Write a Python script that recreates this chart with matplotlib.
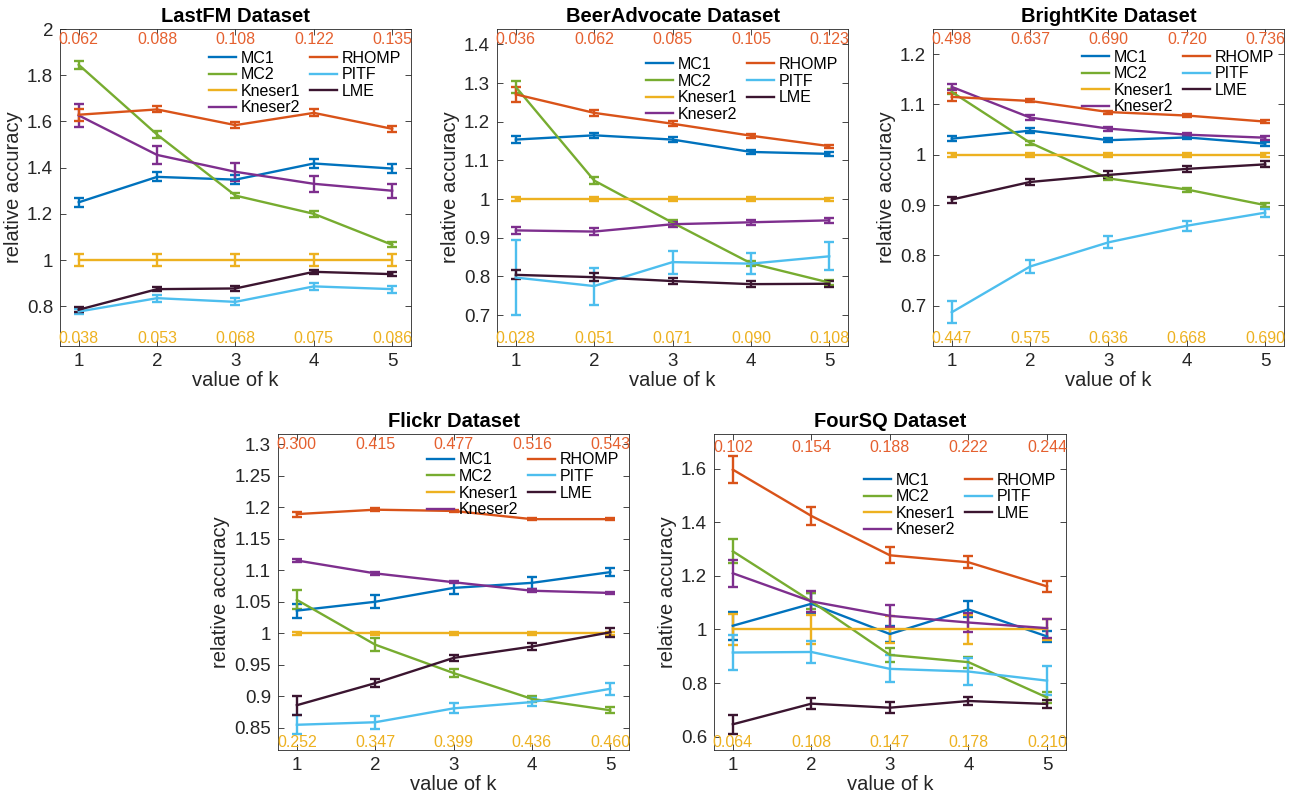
import numpy as np
import matplotlib
matplotlib.use("Agg")
from matplotlib import pyplot as plt
from matplotlib.lines import Line2D
from matplotlib.ticker import FuncFormatter
from matplotlib.transforms import blended_transform_factory

plt.rcParams['font.family'] = ['Liberation Sans', 'DejaVu Sans']

k = [1, 2, 3, 4, 5]
methods = ["MC1", "MC2", "Kneser1", "Kneser2", "RHOMP", "PITF", "LME"]
colors = ["#0072BD", "#77AC30", "#EDB120", "#7E2F8E", "#D95319", "#4DBEEE", "#3B1530"]

## LastFM
lastfm_mean = {
    "MC1": [1.25, 1.36, 1.348, 1.418, 1.396],
    "MC2": [1.845, 1.543, 1.279, 1.20, 1.066],
    "Kneser1": [1.0, 1.0, 1.0, 1.0, 1.0],
    "Kneser2": [1.626, 1.455, 1.382, 1.33, 1.30],
    "RHOMP": [1.629, 1.652, 1.584, 1.637, 1.568],
    "PITF": [0.777, 0.835, 0.819, 0.886, 0.874],
    "LME": [0.785, 0.874, 0.877, 0.949, 0.939],
}
lastfm_err = {
    "MC1": [0.02, 0.02, 0.02, 0.02, 0.018],
    "MC2": [0.018, 0.015, 0.012, 0.012, 0.01],
    "Kneser1": [0.025, 0.025, 0.025, 0.025, 0.025],
    "Kneser2": [0.05, 0.04, 0.04, 0.035, 0.03],
    "RHOMP": [0.025, 0.013, 0.013, 0.015, 0.013],
    "PITF": [0.012, 0.015, 0.015, 0.015, 0.015],
    "LME": [0.01, 0.01, 0.01, 0.01, 0.01],
}
lastfm_top = ["0.062", "0.088", "0.108", "0.122", "0.135"]
lastfm_bot = ["0.038", "0.053", "0.068", "0.075", "0.086"]

## BeerAdvocate
beer_mean = {
    "MC1": [1.154, 1.165, 1.154, 1.122, 1.117],
    "MC2": [1.29, 1.048, 0.939, 0.834, 0.784],
    "Kneser1": [1.0, 1.0, 1.0, 1.0, 1.0],
    "Kneser2": [0.919, 0.916, 0.935, 0.94, 0.945],
    "RHOMP": [1.271, 1.223, 1.195, 1.164, 1.137],
    "PITF": [0.797, 0.775, 0.837, 0.833, 0.852],
    "LME": [0.804, 0.798, 0.788, 0.780, 0.781],
}
beer_err = {
    "MC1": [0.008, 0.007, 0.007, 0.006, 0.005],
    "MC2": [0.015, 0.008, 0.007, 0.006, 0.006],
    "Kneser1": [0.005, 0.005, 0.005, 0.005, 0.004],
    "Kneser2": [0.01, 0.008, 0.007, 0.006, 0.006],
    "RHOMP": [0.02, 0.008, 0.007, 0.005, 0.004],
    "PITF": [0.098, 0.048, 0.03, 0.028, 0.036],
    "LME": [0.012, 0.01, 0.008, 0.008, 0.008],
}
beer_top = ["0.036", "0.062", "0.085", "0.105", "0.123"]
beer_bot = ["0.028", "0.051", "0.071", "0.090", "0.108"]

## BrightKite
bk_mean = {
    "MC1": [1.032, 1.048, 1.029, 1.0345, 1.022],
    "MC2": [1.125, 1.024, 0.953, 0.931, 0.90],
    "Kneser1": [1.0, 1.0, 1.0, 1.0, 1.0],
    "Kneser2": [1.135, 1.074, 1.052, 1.04, 1.034],
    "RHOMP": [1.115, 1.107, 1.085, 1.078, 1.066],
    "PITF": [0.687, 0.778, 0.826, 0.859, 0.885],
    "LME": [0.911, 0.946, 0.96, 0.972, 0.981],
}
bk_err = {
    "MC1": [0.005, 0.005, 0.004, 0.004, 0.004],
    "MC2": [0.005, 0.004, 0.004, 0.004, 0.004],
    "Kneser1": [0.004, 0.004, 0.004, 0.004, 0.004],
    "Kneser2": [0.006, 0.005, 0.004, 0.004, 0.004],
    "RHOMP": [0.008, 0.003, 0.003, 0.003, 0.003],
    "PITF": [0.022, 0.013, 0.012, 0.01, 0.008],
    "LME": [0.006, 0.006, 0.007, 0.006, 0.006],
}
bk_top = ["0.498", "0.637", "0.690", "0.720", "0.736"]
bk_bot = ["0.447", "0.575", "0.636", "0.668", "0.690"]

## Flickr
flickr_mean = {
    "MC1": [1.036, 1.05, 1.072, 1.08, 1.097],
    "MC2": [1.053, 0.982, 0.937, 0.896, 0.878],
    "Kneser1": [1.0, 1.0, 1.0, 1.0, 1.0],
    "Kneser2": [1.1155, 1.095, 1.081, 1.0675, 1.064],
    "RHOMP": [1.189, 1.196, 1.194, 1.181, 1.181],
    "PITF": [0.855, 0.859, 0.881, 0.891, 0.912],
    "LME": [0.886, 0.921, 0.961, 0.979, 1.0016],
}
flickr_err = {
    "MC1": [0.011, 0.01, 0.009, 0.009, 0.006],
    "MC2": [0.015, 0.01, 0.007, 0.005, 0.005],
    "Kneser1": [0.002, 0.002, 0.002, 0.002, 0.002],
    "Kneser2": [0.002, 0.002, 0.002, 0.002, 0.002],
    "RHOMP": [0.004, 0.002, 0.002, 0.002, 0.002],
    "PITF": [0.015, 0.01, 0.008, 0.007, 0.01],
    "LME": [0.015, 0.006, 0.005, 0.005, 0.007],
}
flickr_top = ["0.300", "0.415", "0.477", "0.516", "0.543"]
flickr_bot = ["0.252", "0.347", "0.399", "0.436", "0.460"]

## FourSQ
fsq_mean = {
    "MC1": [1.014, 1.096, 0.983, 1.075, 0.974],
    "MC2": [1.292, 1.105, 0.905, 0.878, 0.746],
    "Kneser1": [1.0, 1.0, 1.0, 1.0, 1.0],
    "Kneser2": [1.21, 1.105, 1.051, 1.026, 1.005],
    "RHOMP": [1.597, 1.424, 1.277, 1.251, 1.161],
    "PITF": [0.914, 0.916, 0.853, 0.843, 0.809],
    "LME": [0.646, 0.723, 0.708, 0.733, 0.722],
}
fsq_err = {
    "MC1": [0.052, 0.04, 0.03, 0.03, 0.02],
    "MC2": [0.045, 0.03, 0.025, 0.02, 0.02],
    "Kneser1": [0.057, 0.055, 0.05, 0.055, 0.04],
    "Kneser2": [0.05, 0.04, 0.04, 0.035, 0.035],
    "RHOMP": [0.05, 0.035, 0.03, 0.022, 0.02],
    "PITF": [0.066, 0.04, 0.05, 0.05, 0.055],
    "LME": [0.035, 0.02, 0.02, 0.015, 0.015],
}
fsq_top = ["0.102", "0.154", "0.188", "0.222", "0.244"]
fsq_bot = ["0.064", "0.108", "0.147", "0.178", "0.210"]

AX_COLOR = "#262626"


def fmt_g(v, pos):
    return "%g" % round(v, 4)


def draw_panel(ax, title, mean, err, top, bot, ylim, yticks, legend_y, top_y):
    handles = []
    for m, c in zip(methods, colors):
        ax.errorbar(k, mean[m], yerr=err[m], color=c, lw=1.7, elinewidth=1.7,
                    capsize=3.5, capthick=1.7)
        handles.append(Line2D([], [], color=c, lw=1.7, label=m))
    ax.set_xlim(0.76, 5.24)
    ax.set_ylim(*ylim)
    ax.set_xticks(k)
    ax.set_yticks(yticks)
    ax.yaxis.set_major_formatter(FuncFormatter(fmt_g))
    ax.tick_params(direction="in", top=True, right=True, labelsize=13.5,
                   colors=AX_COLOR, length=4, width=0.6, pad=5)
    for s in ax.spines.values():
        s.set_color(AX_COLOR)
        s.set_linewidth(0.6)
    ax.set_title(title, fontsize=14.5, fontweight="bold", pad=5)
    ax.set_xlabel("value of k", fontsize=14.5, color=AX_COLOR, labelpad=1)
    ax.set_ylabel("relative accuracy", fontsize=14.5, color=AX_COLOR, labelpad=3)

    tr = blended_transform_factory(ax.transData, ax.transAxes)
    for x, t, b in zip(k, top, bot):
        ax.text(x, top_y, t, transform=tr, ha="center", va="center",
                fontsize=11.5, color="#E5602F")
        ax.text(x, 0.025, b, transform=tr, ha="center", va="center",
                fontsize=11.5, color="#EDB120")

    ax.legend(handles=handles, loc="upper right", bbox_to_anchor=(1.0, legend_y),
              ncol=2, frameon=False, fontsize=11.5, handlelength=1.7,
              handletextpad=0.3, labelspacing=0.1, columnspacing=0.6,
              borderaxespad=0.2)


fig = plt.figure(figsize=(12.92, 7.95), dpi=100)
ax1 = fig.add_axes([0.0464, 0.5648, 0.2717, 0.3987])
ax2 = fig.add_axes([0.3847, 0.5648, 0.2717, 0.3987])
ax3 = fig.add_axes([0.7221, 0.5648, 0.2717, 0.3987])
ax4 = fig.add_axes([0.2152, 0.0566, 0.2717, 0.3975])
ax5 = fig.add_axes([0.5526, 0.0566, 0.2724, 0.3975])

draw_panel(ax1, "LastFM Dataset", lastfm_mean, lastfm_err, lastfm_top, lastfm_bot,
           (0.628, 2.0), np.arange(0.8, 2.01, 0.2), 0.962, 0.968)
draw_panel(ax2, "BeerAdvocate Dataset", beer_mean, beer_err, beer_top, beer_bot,
           (0.62, 1.44), np.arange(0.7, 1.41, 0.1), 0.942, 0.968)
draw_panel(ax3, "BrightKite Dataset", bk_mean, bk_err, bk_top, bk_bot,
           (0.62, 1.25), np.arange(0.7, 1.21, 0.1), 0.965, 0.968)
draw_panel(ax4, "Flickr Dataset", flickr_mean, flickr_err, flickr_top, flickr_bot,
           (0.815, 1.316), np.arange(0.85, 1.301, 0.05), 0.972, 0.968)
draw_panel(ax5, "FourSQ Dataset", fsq_mean, fsq_err, fsq_top, fsq_bot,
           (0.55, 1.73), np.arange(0.6, 1.61, 0.2), 0.908, 0.956)

plt.savefig("out.png", dpi=100)
